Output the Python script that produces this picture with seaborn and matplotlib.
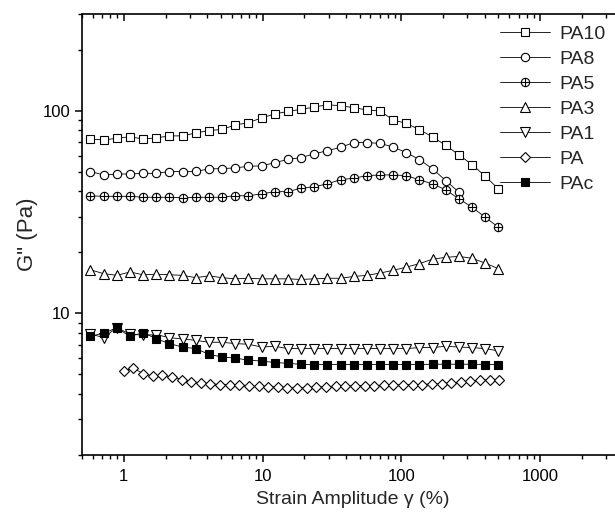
import matplotlib
matplotlib.use("Agg")
import matplotlib.pyplot as plt
import seaborn as sns
import pandas as pd
from matplotlib.path import Path
from matplotlib.ticker import FixedLocator, FixedFormatter, NullFormatter

# ---------------- data ----------------
strain = [0.575, 0.716, 0.891, 1.108, 1.378, 1.715, 2.133, 2.654, 3.302, 4.108,
          5.110, 6.357, 7.909, 9.838, 12.24, 15.23, 18.94, 23.57, 29.32, 36.48,
          45.38, 56.45, 70.23, 87.37, 108.7, 135.2, 168.2, 209.3, 260.3, 323.9,
          402.9, 501.2]
strain_pa = [1.000, 1.173, 1.377, 1.615, 1.895, 2.223, 2.609, 3.061, 3.591, 4.214,
             4.943, 5.800, 6.805, 7.985, 9.368, 10.99, 12.90, 15.13, 17.75, 20.83,
             24.44, 28.67, 33.64, 39.47, 46.31, 54.33, 63.75, 74.80, 87.76, 103.0,
             120.8, 141.7, 166.3, 195.1, 228.9, 268.6, 315.1, 369.7, 433.8, 509.0]

pa10 = [72.5, 71.7, 73.1, 74.4, 72.5, 73.4, 75.1, 75.1, 77.7, 79.7, 80.9, 85.0,
        87.3, 92.1, 96.3, 99.2, 101.5, 104.2, 107.0, 105.8, 103.5, 100.8, 99.7,
        90.0, 86.6, 80.6, 74.2, 67.5, 60.5, 54.2, 47.5, 41.1]
pa8 = [50.1, 48.2, 48.6, 48.8, 49.0, 49.1, 50.1, 50.1, 50.2, 51.6, 51.8, 52.2,
       53.2, 53.4, 55.4, 57.5, 58.7, 61.2, 63.5, 65.9, 69.6, 69.6, 69.0, 66.2,
       62.1, 57.4, 51.6, 45.2, 39.6]
pa5 = [38.0, 37.8, 37.8, 37.8, 37.4, 37.4, 37.4, 37.2, 37.4, 37.4, 37.4, 38.1,
       38.0, 38.9, 39.8, 39.9, 41.4, 42.2, 43.5, 45.7, 46.4, 47.8, 48.2, 48.2,
       47.8, 45.6, 43.5, 40.7, 36.7, 33.4, 29.8, 26.6]
pa3 = [16.4, 15.7, 15.4, 16.0, 15.5, 15.6, 15.5, 15.4, 15.0, 15.3, 15.0, 14.8,
       14.9, 14.8, 14.8, 14.8, 14.7, 14.8, 14.9, 14.9, 15.2, 15.4, 15.8, 16.3,
       16.9, 17.6, 18.5, 18.9, 19.1, 18.7, 17.7, 16.6]
pa1 = [7.9, 7.6, 8.5, 7.9, 7.8, 7.85, 7.59, 7.47, 7.36, 7.20, 7.20, 7.09, 7.04,
       6.82, 6.88, 6.70, 6.70, 6.70, 6.70, 6.70, 6.70, 6.70, 6.70, 6.70, 6.70,
       6.78, 6.78, 6.88, 6.82, 6.78, 6.70, 6.53]
pa = [5.20, 5.38, 5.04, 4.90, 4.95, 4.86, 4.71, 4.59, 4.54, 4.50, 4.45, 4.45,
      4.42, 4.37, 4.37, 4.34, 4.34, 4.30, 4.27, 4.30, 4.34, 4.34, 4.37, 4.37,
      4.40, 4.40, 4.40, 4.42, 4.42, 4.45, 4.45, 4.45, 4.50, 4.50, 4.54, 4.59,
      4.62, 4.68, 4.71, 4.71]
pac = [7.70, 8.00, 8.47, 7.70, 8.03, 7.50, 7.09, 6.82, 6.70, 6.28, 6.09, 6.02,
       5.87, 5.82, 5.72, 5.67, 5.60, 5.59, 5.59, 5.59, 5.59, 5.59, 5.59, 5.59,
       5.59, 5.59, 5.61, 5.61, 5.61, 5.61, 5.59, 5.59]

series_names = ["PA10", "PA8", "PA5", "PA3", "PA1", "PA", "PAc"]
x_ticks = [1, 10, 100, 1000]
x_tick_labels = ["1", "10", "100", "1000"]
y_ticks = [10, 100]
y_tick_labels = ["10", "100"]

# ---------------- style ----------------
sns.set_style("ticks")
plt.rcParams["font.family"] = ["Liberation Sans", "DejaVu Sans"]

oplus = Path.make_compound_path(
    Path.unit_circle(),
    Path([(-1, 0), (1, 0)], [Path.MOVETO, Path.LINETO]),
    Path([(0, -1), (0, 1)], [Path.MOVETO, Path.LINETO]),
)

fig = plt.figure(figsize=(6.15, 5.17), dpi=100)
ax = fig.add_axes([82 / 615, 1 - 455 / 517, (637 - 82) / 615, (455 - 14) / 517])

styles = {
    "PA10": dict(marker="s", ms=5.2, mfc="white"),
    "PA8": dict(marker="o", ms=6.0, mfc="white"),
    "PA5": dict(marker=oplus, ms=6.0, mfc="white"),
    "PA3": dict(marker="^", ms=6.5, mfc="white"),
    "PA1": dict(marker="v", ms=6.5, mfc="white"),
    "PA": dict(marker="D", ms=5.0, mfc="white"),
    "PAc": dict(marker="s", ms=5.6, mfc="black"),
}
data = {
    "PA10": (strain, pa10),
    "PA8": (strain[:len(pa8)], pa8),
    "PA5": (strain, pa5),
    "PA3": (strain, pa3),
    "PA1": (strain, pa1),
    "PA": (strain_pa, pa),
    "PAc": (strain, pac),
}

for name in series_names:
    xs, ys = data[name]
    df = pd.DataFrame({"x": xs, "y": ys})
    st = styles[name]
    sns.lineplot(data=df, x="x", y="y", ax=ax, color="black", linewidth=0.6,
                 marker=st["marker"], markersize=st["ms"],
                 markerfacecolor=st["mfc"], markeredgecolor="black",
                 markeredgewidth=0.8, label=name, sort=False, estimator=None)

ax.set_xscale("log")
ax.set_yscale("log")
ax.set_xlim(0.5, 5000)
ax.set_ylim(2, 300)

ax.xaxis.set_major_locator(FixedLocator(x_ticks))
ax.xaxis.set_major_formatter(FixedFormatter(x_tick_labels))
xminor = [m * 10.0 ** e for e in range(-1, 4) for m in range(2, 10)]
ax.xaxis.set_minor_locator(FixedLocator([v for v in xminor if 0.5 <= v <= 5000]))
ax.xaxis.set_minor_formatter(NullFormatter())

ax.yaxis.set_major_locator(FixedLocator(y_ticks))
ax.yaxis.set_major_formatter(FixedFormatter(y_tick_labels))
yminor = [m * 10.0 ** e for e in range(0, 3) for m in range(2, 10)]
ax.yaxis.set_minor_locator(FixedLocator([v for v in yminor if 2 <= v <= 300]))
ax.yaxis.set_minor_formatter(NullFormatter())

for s in ax.spines.values():
    s.set_linewidth(1.2)
    s.set_color("black")
ax.spines["top"].set_visible(True)
ax.spines["right"].set_visible(True)

ax.tick_params(axis="both", which="major", length=5, width=1.1, labelsize=12,
               color="black", labelcolor="black")
ax.tick_params(axis="both", which="minor", length=3, width=1.0, color="black")
ax.tick_params(axis="x", which="both", direction="out", top=True)
ax.tick_params(axis="x", which="both", top=True, labeltop=False)
ax.tick_params(axis="x", which="major", pad=5)
ax.tick_params(axis="y", which="both", direction="out", right=False)
# top ticks point inward
for t in ax.xaxis.get_major_ticks() + ax.xaxis.get_minor_ticks():
    t.tick2line.set_marker(matplotlib.lines.TICKDOWN)

ax.set_xlabel("Strain Amplitude γ (%)", fontsize=14)
ax.xaxis.set_label_coords((353 - 82) / (637 - 82), -0.082)
ax.set_ylabel('G" (Pa)', fontsize=16, labelpad=3)

leg = ax.legend(loc="upper left", bbox_to_anchor=(500 / 615, 1 - 25 / 517),
                bbox_transform=fig.transFigure, frameon=False, fontsize=14,
                handlelength=3.3 * 11 / 14, handletextpad=0.6 * 11 / 14,
                labelspacing=0.38, borderpad=0, borderaxespad=0)

fig.savefig("out.png", dpi=100)
